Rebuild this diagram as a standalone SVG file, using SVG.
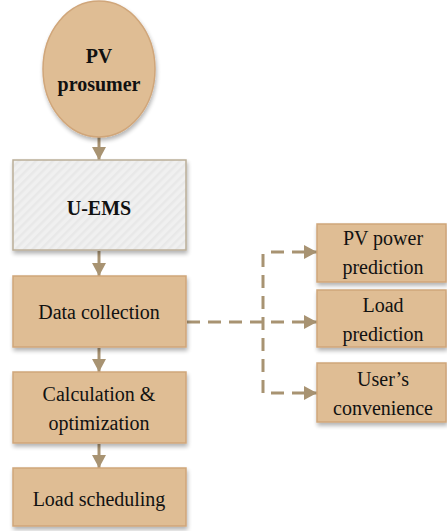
<svg xmlns="http://www.w3.org/2000/svg" width="447" height="531" viewBox="0 0 447 531">
  <defs>
    <pattern id="hatch" width="6" height="6" patternUnits="userSpaceOnUse" patternTransform="rotate(45)">
      <rect width="6" height="6" fill="#f0f0f0"/>
      <rect width="2.5" height="6" fill="#e8e8e8"/>
    </pattern>
    <filter id="shadow" x="-10%" y="-10%" width="125%" height="130%">
      <feGaussianBlur in="SourceAlpha" stdDeviation="2"/>
      <feOffset dx="1" dy="3" result="b"/>
      <feComponentTransfer><feFuncA type="linear" slope="0.3"/></feComponentTransfer>
      <feMerge><feMergeNode/><feMergeNode in="SourceGraphic"/></feMerge>
    </filter>
    <marker id="head" viewBox="0 0 13 14" markerWidth="13" markerHeight="14" refX="13" refY="7" orient="auto" markerUnits="userSpaceOnUse">
      <path d="M0,0 L13,7 L0,14 Z" fill="#a89372"/>
    </marker>
  </defs>
  <style>
    .box { fill: #dfbd94; stroke: #d0a67a; stroke-width: 1.5; filter: url(#shadow); }
    .grey { fill: url(#hatch); stroke: #bbae98; stroke-width: 1.5; filter: url(#shadow); }
    .t { font-family: "Liberation Serif", "Times New Roman", serif; font-size: 20px; fill: #111; text-anchor: middle; }
    .b { font-weight: bold; }
    .solid { stroke: #a89372; stroke-width: 3; fill: none; marker-end: url(#head); }
    .dash { stroke: #a89372; stroke-width: 3; fill: none; stroke-dasharray: 13 8; }
    .dashA { stroke: #a89372; stroke-width: 3; fill: none; stroke-dasharray: 13 8; marker-end: url(#head); }
  </style>

  <g id="connectors">
    <line class="solid" x1="99" y1="137" x2="99" y2="160"/>
    <line class="solid" x1="99" y1="251" x2="99" y2="276"/>
    <line class="solid" x1="99" y1="348" x2="99" y2="372"/>
    <line class="solid" x1="99" y1="444" x2="99" y2="468"/>
    <line class="dashA" x1="187" y1="322" x2="317" y2="322"/>
    <path class="dash" d="M263,393 L263,252"/>
    <line class="dashA" x1="263" y1="252" x2="317" y2="252" stroke-dashoffset="-8"/>
    <line class="dashA" x1="263" y1="393" x2="317" y2="393" stroke-dashoffset="-8"/>
  </g>

  <g id="pv-prosumer">
    <ellipse class="box" cx="99" cy="69" rx="56" ry="68"/>
    <text class="t b" x="99" y="63">PV</text>
    <text class="t b" x="99" y="91">prosumer</text>
  </g>

  <g id="u-ems">
    <rect class="grey" x="13" y="160" width="173" height="90"/>
    <text class="t b" x="99" y="215">U-EMS</text>
  </g>

  <g id="data-collection">
    <rect class="box" x="13" y="276" width="173" height="71"/>
    <text class="t" x="99" y="319">Data collection</text>
  </g>

  <g id="calculation">
    <rect class="box" x="13" y="372" width="173" height="71"/>
    <text class="t" x="99" y="401">Calculation &amp;</text>
    <text class="t" x="99" y="430">optimization</text>
  </g>

  <g id="load-scheduling">
    <rect class="box" x="13" y="468" width="173" height="58"/>
    <text class="t" x="99" y="506">Load scheduling</text>
  </g>

  <g id="pv-power-prediction">
    <rect class="box" x="317" y="224" width="129" height="58"/>
    <text class="t" x="383" y="245">PV power</text>
    <text class="t" x="383" y="274">prediction</text>
  </g>

  <g id="load-prediction">
    <rect class="box" x="317" y="290" width="129" height="57"/>
    <text class="t" x="383" y="312">Load</text>
    <text class="t" x="383" y="341">prediction</text>
  </g>

  <g id="users-convenience">
    <rect class="box" x="317" y="363" width="129" height="59"/>
    <text class="t" x="383" y="386">User’s</text>
    <text class="t" x="383" y="415">convenience</text>
  </g>
</svg>
